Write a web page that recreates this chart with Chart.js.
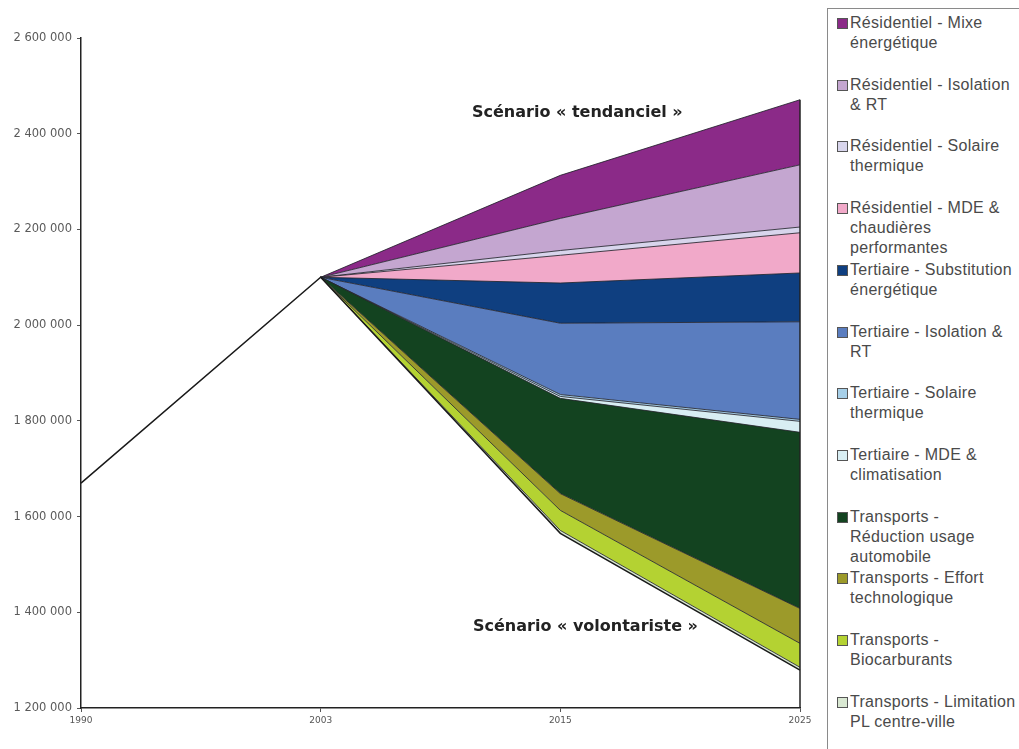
<!DOCTYPE html>
<html>
<head>
<meta charset="utf-8">
<script src="https://cdn.jsdelivr.net/npm/chart.js@4/dist/chart.umd.min.js"></script>
<style>
  body { margin: 0; background: #fff; width: 1019px; height: 749px; overflow: hidden; position: relative; }
  #wrap { position: absolute; left: 0; top: 0; width: 815px; height: 749px; }
  #legend { position: absolute; left: 827px; top: 8px; width: 200px; height: 760px;
            border-left: 1px solid #8a8a8a; border-top: 1px solid #8a8a8a;
            font-family: "Liberation Sans", Arial, sans-serif; font-size: 16px; letter-spacing: 0.3px; color: #4a4a4a; }
  .item { position: absolute; left: 0; line-height: 20px; }
  .sq { position: absolute; left: 9px; top: 5px; width: 9px; height: 9px; border: 1px solid #555; }
  .txt { position: absolute; left: 22px; top: 0; white-space: nowrap; }
</style>
</head>
<body>
<div id="wrap"><canvas id="myChart" width="815" height="749"></canvas></div>
<div id="legend"></div>
<script>
// années
var annees = ['1990', '2003', '2015', '2025'];
// scénario volontariste (ligne de base)
var base = [1670000, 2100000, 1565000, 1279000];

// couches empilées, du bas vers le haut
var limitationPL     = [null, 0, 6000, 6000];
var biocarburants    = [null, 0, 42000, 50000];
var effortTechno     = [null, 0, 35000, 73000];
var reductionAuto    = [null, 0, 199000, 368000];
var tertMde          = [null, 0, 4000, 23000];
var tertSolaire      = [null, 0, 4000, 4000];
var tertIsolation    = [null, 0, 149000, 204000];
var tertSubstitution = [null, 0, 84000, 102000];
var resMde           = [null, 0, 58000, 84000];
var resSolaire       = [null, 0, 10000, 12000];
var resIsolation     = [null, 0, 67000, 130000];
var resMixe          = [null, 0, 90000, 136000];

var couches = [
    {label: ['Transports - Limitation', 'PL centre-ville'], data: limitationPL, color: '#d9e8d2'},
    {label: ['Transports -', 'Biocarburants'], data: biocarburants, color: '#b4d232'},
    {label: ['Transports - Effort', 'technologique'], data: effortTechno, color: '#9c9a2a'},
    {label: ['Transports -', 'Réduction usage', 'automobile'], data: reductionAuto, color: '#134320'},
    {label: ['Tertiaire - MDE &', 'climatisation'], data: tertMde, color: '#d8eef3'},
    {label: ['Tertiaire - Solaire', 'thermique'], data: tertSolaire, color: '#a6cfe8'},
    {label: ['Tertiaire - Isolation &', 'RT'], data: tertIsolation, color: '#5a7dbf'},
    {label: ['Tertiaire - Substitution', 'énergétique'], data: tertSubstitution, color: '#0f3f80'},
    {label: ['Résidentiel - MDE &', 'chaudières', 'performantes'], data: resMde, color: '#f1a9c9'},
    {label: ['Résidentiel - Solaire', 'thermique'], data: resSolaire, color: '#d8d5ec'},
    {label: ['Résidentiel - Isolation', '& RT'], data: resIsolation, color: '#c4a6d0'},
    {label: ['Résidentiel - Mixe', 'énergétique'], data: resMixe, color: '#8b2a88'}
];

var datasets = [{
    label: 'Base',
    data: base,
    borderColor: '#1a1a1a',
    borderWidth: 1.5,
    fill: false,
    pointRadius: 0
}];
couches.forEach(function(c){
    datasets.push({
        label: c.label.join(' '),
        data: c.data,
        backgroundColor: c.color,
        borderColor: 'rgba(35,35,45,0.85)',
        borderWidth: 1,
        fill: '-1',
        pointRadius: 0
    });
});

// légende à droite
var leg = document.getElementById('legend');
couches.slice().reverse().forEach(function(c, i){
    var d = document.createElement('div');
    d.className = 'item';
    d.style.top = (4 + i * 61.7) + 'px';
    d.innerHTML = '<div class="sq" style="background:' + c.color + '"></div><div class="txt">' + c.label.join('<br>') + '</div>';
    leg.appendChild(d);
});

var annotations = {
    id: 'annotations',
    afterDatasetsDraw: function(chart){
        var ctx = chart.ctx;
        var x = chart.scales.x;
        var last = chart.getDatasetMeta(chart.data.datasets.length - 1).data[3];
        ctx.save();
        ctx.strokeStyle = '#222';
        ctx.lineWidth = 1.5;
        ctx.beginPath();
        ctx.moveTo(x.getPixelForValue(3), last.y);
        ctx.lineTo(x.getPixelForValue(3), chart.chartArea.bottom);
        ctx.stroke();
        ctx.fillStyle = '#222';
        ctx.font = 'bold 16px "DejaVu Sans"';
        ctx.textBaseline = 'middle';
        ctx.fillText('Scénario « tendanciel »', 472, 113);
        ctx.fillText('Scénario « volontariste »', 473, 627);
        ctx.restore();
    }
};

var ctx = document.getElementById('myChart').getContext('2d');
var chart = new Chart(ctx, {
    type: 'line',
    data: { labels: annees, datasets: datasets },
    plugins: [annotations],
    options: {
        responsive: false,
        animation: false,
        layout: { padding: { top: 38, right: 15, left: 0, bottom: 0 } },
        elements: { line: { tension: 0 } },
        plugins: { legend: { display: false }, tooltip: { enabled: false } },
        scales: {
            x: {
                offset: false,
                grid: { drawOnChartArea: false, tickLength: 4, color: '#555' },
                border: { color: '#222', width: 1.5 },
                ticks: { color: '#555', font: { family: 'DejaVu Sans', size: 9 }, padding: 3, maxRotation: 0 },
                afterFit: function(s){ s.height = 41; }
            },
            y: {
                stacked: true,
                min: 1200000,
                max: 2600000,
                ticks: {
                    stepSize: 200000,
                    color: '#5a5a5a',
                    font: { family: 'DejaVu Sans', size: 11.5 },
                    padding: 5,
                    callback: function(v){ return v.toString().replace(/\B(?=(\d{3})+(?!\d))/g, ' '); }
                },
                grid: { drawOnChartArea: false, tickLength: 4, color: '#555' },
                border: { color: '#222', width: 1.5 },
                afterFit: function(s){ s.width = 81; }
            }
        }
    }
});
</script>
</body>
</html>
